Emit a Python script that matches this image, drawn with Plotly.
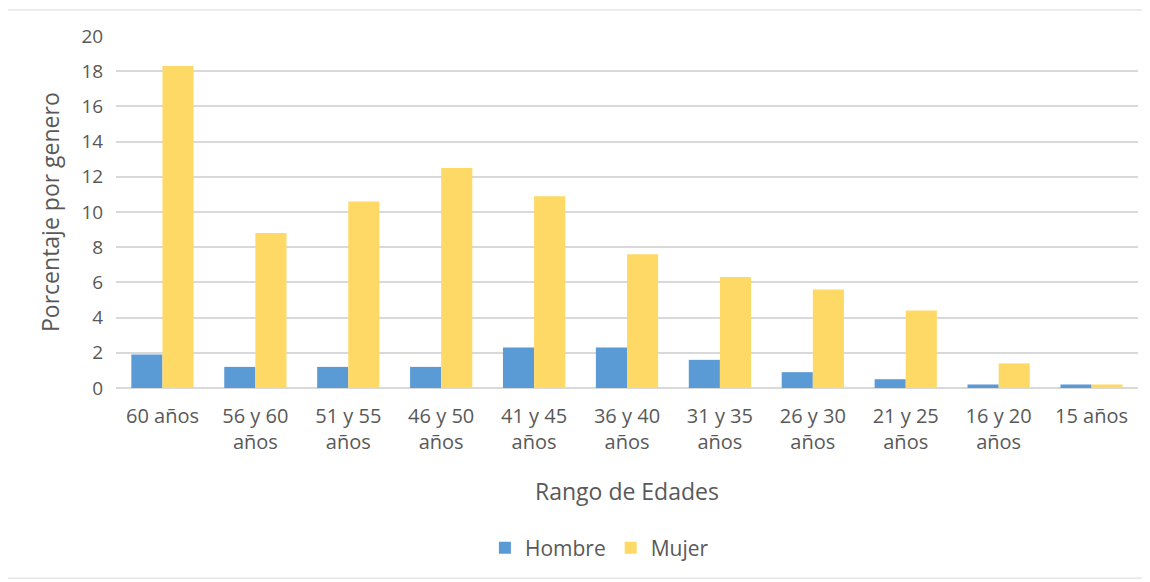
import plotly.graph_objects as go

categorias = ["60 años", "56 y 60<br>años", "51 y 55<br>años", "46 y 50<br>años", "41 y 45<br>años",
              "36 y 40<br>años", "31 y 35<br>años", "26 y 30<br>años", "21 y 25<br>años",
              "16 y 20<br>años", "15 años"]
hombre = [1.9, 1.2, 1.2, 1.2, 2.3, 2.3, 1.6, 0.9, 0.5, 0.2, 0.2]
mujer = [18.3, 8.8, 10.6, 12.5, 10.9, 7.6, 6.3, 5.6, 4.4, 1.4, 0.2]
y_ticks = [0, 2, 4, 6, 8, 10, 12, 14, 16, 18, 20]

FONT = "Open Sans"
GRAY = "#595959"

fig = go.Figure()
fig.add_trace(go.Bar(name="Hombre", x=categorias, y=hombre, marker=dict(color="#5B9BD5", line=dict(width=0))))
fig.add_trace(go.Bar(name="Mujer", x=categorias, y=mujer, marker=dict(color="#FFD966", line=dict(width=0))))

fig.update_layout(
    width=1150, height=582,
    margin=dict(l=108, r=20, t=28, b=202),
    paper_bgcolor="white", plot_bgcolor="white",
    barmode="group", bargap=0.33, bargroupgap=0,
    font=dict(family=FONT, color=GRAY, size=20),
    showlegend=True,
    legend=dict(orientation="h", x=0.473, xanchor="center", y=-0.4545, yanchor="middle",
                font=dict(size=21, color=GRAY), itemwidth=30, traceorder="normal"),
    xaxis=dict(showgrid=False, showline=False, zeroline=False, ticks="outside", ticklen=10,
               tickcolor="rgba(0,0,0,0)", tickfont=dict(size=20, color=GRAY)),
    yaxis=dict(range=[0, 20], tickvals=y_ticks, showgrid=True, gridcolor="#D9D9D9", gridwidth=1.5,
               zeroline=True, zerolinecolor="#D9D9D9", zerolinewidth=1.5, showline=False,
               ticks="outside", ticklen=8, tickcolor="rgba(0,0,0,0)",
               tickfont=dict(size=19, color=GRAY)),
    annotations=[
        dict(text="Rango de Edades", xref="paper", yref="paper", x=0.5, y=-0.2926,
             xanchor="center", yanchor="middle", showarrow=False, font=dict(size=23, color=GRAY)),
        dict(text="Porcentaje por genero", xref="paper", yref="paper", x=-0.0646, y=0.5,
             xanchor="center", yanchor="middle", textangle=-90, showarrow=False,
             font=dict(size=23, color=GRAY)),
    ],
    shapes=[dict(type="rect", xref="paper", yref="paper", x0=-0.1076, x1=1.0098, y0=-0.540, y1=1.074,
                 line=dict(color="#D9D9D9", width=1), fillcolor="rgba(0,0,0,0)", layer="below")],
)

fig.write_html("out.html")
